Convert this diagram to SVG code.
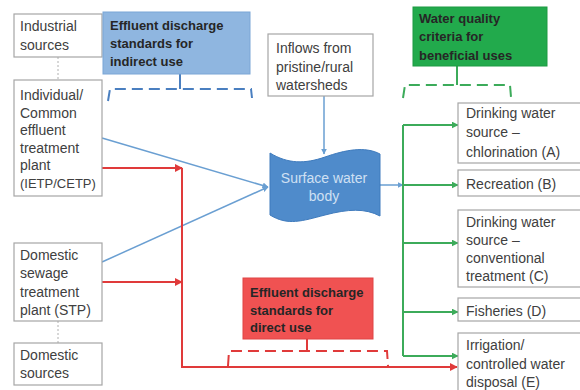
<svg xmlns="http://www.w3.org/2000/svg" width="580" height="390" viewBox="0 0 580 390">
<defs>
<style>
.box{fill:#fff;stroke:#a6a6a6;stroke-width:1.2}
.t{font-family:"Liberation Sans",Arial,sans-serif;font-size:14px;fill:#404040}
.b{font-family:"Liberation Sans",Arial,sans-serif;font-size:13px;font-weight:bold;fill:#262626}
.blue{stroke:#6a9fd2;stroke-width:1.5;fill:none}
.red{stroke:#e03a3a;stroke-width:2;fill:none}
.green{stroke:#3cab5a;stroke-width:2;fill:none}
.dash{stroke-dasharray:11,6;stroke-width:2;fill:none}
</style>
<marker id="ab" viewBox="0 0 10 10" refX="9" refY="5" markerWidth="6" markerHeight="6" orient="auto" markerUnits="userSpaceOnUse"><path d="M0,0 L10,5 L0,10 z" fill="#6a9fd2"/></marker>
<marker id="ar" viewBox="0 0 10 10" refX="9" refY="5" markerWidth="8" markerHeight="8" orient="auto" markerUnits="userSpaceOnUse"><path d="M0,0 L10,5 L0,10 z" fill="#e03a3a"/></marker>
<marker id="ag" viewBox="0 0 10 10" refX="9" refY="5" markerWidth="7" markerHeight="7" orient="auto" markerUnits="userSpaceOnUse"><path d="M0,0 L10,5 L0,10 z" fill="#3cab5a"/></marker>
</defs>
<rect width="580" height="390" fill="#fff"/>

<g id="connectors">
<line x1="58" y1="57" x2="58" y2="80" stroke="#b0b0b0" stroke-width="1" stroke-dasharray="2,2"/>
<line x1="58" y1="321" x2="58" y2="343" stroke="#b0b0b0" stroke-width="1" stroke-dasharray="2,2"/>
<line class="blue" x1="324" y1="96" x2="324" y2="154" marker-end="url(#ab)"/>
<line class="blue" x1="102" y1="138" x2="268" y2="187" marker-end="url(#ab)"/>
<line class="blue" x1="102" y1="262" x2="268" y2="187" marker-end="url(#ab)"/>
<line class="blue" x1="380" y1="185" x2="403" y2="185" marker-end="url(#ab)"/>
<line class="red" x1="102" y1="168" x2="182" y2="168" marker-end="url(#ar)"/>
<line class="red" x1="102" y1="282" x2="182" y2="282" marker-end="url(#ar)"/>
<polyline class="red" points="182,168 182,367 457,367" marker-end="url(#ar)"/>
<line class="green" x1="403" y1="125" x2="403" y2="356"/>
<line class="green" x1="403" y1="125" x2="458" y2="125" marker-end="url(#ag)"/>
<line class="green" x1="403" y1="185" x2="458" y2="185" marker-end="url(#ag)"/>
<line class="green" x1="403" y1="243" x2="458" y2="243" marker-end="url(#ag)"/>
<line class="green" x1="403" y1="312" x2="458" y2="312" marker-end="url(#ag)"/>
<line class="green" x1="403" y1="356" x2="458" y2="356" marker-end="url(#ag)"/>
<path class="dash" stroke="#4a7fc0" d="M108,101 L110,89 H251 L252,98"/>
<line x1="180" y1="74" x2="180" y2="89" stroke="#4a7fc0" stroke-width="2"/>
<path class="dash" stroke="#3cab5a" d="M403,98 L405,85 H510 L511,97"/>
<line x1="457" y1="66" x2="457" y2="85" stroke="#3cab5a" stroke-width="2"/>
<path class="dash" stroke="#e03a3a" d="M228,366 L229,351 H387 L388,366"/>
<line x1="307" y1="339" x2="307" y2="351" stroke="#e03a3a" stroke-width="2"/>
</g>

<g id="industrial">
<rect class="box" x="14" y="14" width="88" height="43"/>
<text class="t" x="20" y="31">Industrial</text>
<text class="t" x="20" y="50">sources</text>
</g>

<g id="indirect-standards">
<rect x="103" y="12" width="147" height="62" fill="#8fb6e0" stroke="#7aa6d6" stroke-width="1"/>
<text class="b" x="110" y="30">Effluent discharge</text>
<text class="b" x="110" y="48">standards for</text>
<text class="b" x="110" y="66">indirect use</text>
</g>

<g id="ietp">
<rect class="box" x="14" y="80" width="88" height="116"/>
<text class="t" x="20" y="100">Individual/</text>
<text class="t" x="20" y="117.6">Common</text>
<text class="t" x="20" y="135.2">effluent</text>
<text class="t" x="20" y="152.8">treatment</text>
<text class="t" x="20" y="170.4">plant</text>
<text class="t" x="20" y="188" style="font-size:13px">(IETP/CETP)</text>
</g>

<g id="inflows">
<rect class="box" x="268" y="34" width="105" height="62"/>
<text class="t" x="276" y="53">Inflows from</text>
<text class="t" x="276" y="71.5">pristine/rural</text>
<text class="t" x="276" y="90">watersheds</text>
</g>

<g id="water-body">
<path d="M270,153 C288,164 305,164 325,157 S365,146 380,154 L380,216 C365,208 348,209 325,215 S288,226 270,215 Z" fill="#4f8bcb" stroke="#3f7bbd" stroke-width="1"/>
<text class="t" x="324" y="183" text-anchor="middle" style="fill:#cfe0f3">Surface water</text>
<text class="t" x="324" y="201" text-anchor="middle" style="fill:#cfe0f3">body</text>
</g>

<g id="wq-criteria">
<rect x="413" y="7" width="134" height="59" fill="#22aa4c" stroke="#1c9a42" stroke-width="1"/>
<text class="b" x="419" y="23">Water quality</text>
<text class="b" x="419" y="41">criteria for</text>
<text class="b" x="419" y="60">beneficial uses</text>
</g>

<g id="stp">
<rect class="box" x="14" y="243" width="88" height="78"/>
<text class="t" x="20" y="260">Domestic</text>
<text class="t" x="20" y="278">sewage</text>
<text class="t" x="20" y="297">treatment</text>
<text class="t" x="20" y="315">plant (STP)</text>
</g>

<g id="domestic">
<rect class="box" x="14" y="343" width="88" height="42"/>
<text class="t" x="20" y="360">Domestic</text>
<text class="t" x="20" y="378">sources</text>
</g>

<g id="direct-standards">
<rect x="243" y="278" width="130" height="61" fill="#f05252" stroke="#e04444" stroke-width="1"/>
<text class="b" x="250" y="297">Effluent discharge</text>
<text class="b" x="250" y="315">standards for</text>
<text class="b" x="250" y="332">direct use</text>
</g>

<g id="use-a">
<rect class="box" x="458" y="103" width="130" height="60"/>
<text class="t" x="466" y="118">Drinking water</text>
<text class="t" x="466" y="137">source –</text>
<text class="t" x="466" y="157">chlorination (A)</text>
</g>

<g id="use-b">
<rect class="box" x="458" y="170" width="130" height="26"/>
<text class="t" x="466" y="189">Recreation (B)</text>
</g>

<g id="use-c">
<rect class="box" x="458" y="210" width="130" height="77"/>
<text class="t" x="466" y="227">Drinking water</text>
<text class="t" x="466" y="245">source –</text>
<text class="t" x="466" y="263">conventional</text>
<text class="t" x="466" y="281">treatment (C)</text>
</g>

<g id="use-d">
<rect class="box" x="458" y="298" width="130" height="23"/>
<text class="t" x="466" y="316">Fisheries (D)</text>
</g>

<g id="use-e">
<rect class="box" x="458" y="333" width="130" height="70"/>
<text class="t" x="466" y="350">Irrigation/</text>
<text class="t" x="466" y="369">controlled water</text>
<text class="t" x="466" y="387">disposal (E)</text>
</g>
</svg>
